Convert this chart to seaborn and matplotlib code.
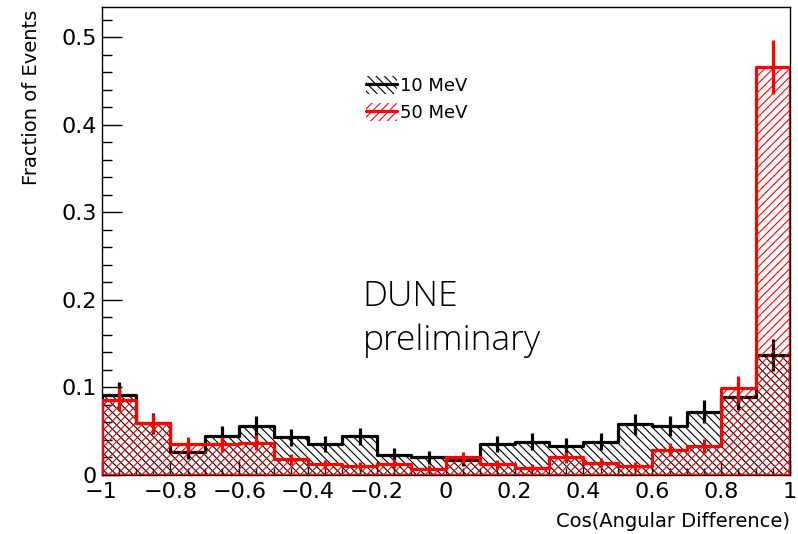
import matplotlib
matplotlib.use("Agg")
import numpy as np
import pandas as pd
import seaborn as sns
import matplotlib.pyplot as plt
from matplotlib.patches import Patch
from matplotlib.lines import Line2D
from matplotlib.ticker import MultipleLocator

# ---------------- data ----------------
bin_edges = [-1.0, -0.9, -0.8, -0.7, -0.6, -0.5, -0.4, -0.3, -0.2, -0.1, 0.0,
             0.1, 0.2, 0.3, 0.4, 0.5, 0.6, 0.7, 0.8, 0.9, 1.0]
frac_10 = [0.091, 0.059, 0.026, 0.045, 0.056, 0.043, 0.035, 0.044, 0.023, 0.020,
           0.017, 0.035, 0.038, 0.033, 0.038, 0.058, 0.056, 0.072, 0.089, 0.137]
err_10 = [0.0147, 0.0119, 0.0079, 0.0104, 0.0115, 0.0101, 0.0091, 0.0102, 0.0074, 0.0069,
          0.0064, 0.0091, 0.0095, 0.0089, 0.0095, 0.0118, 0.0115, 0.0131, 0.0146, 0.0180]
frac_50 = [0.086, 0.059, 0.035, 0.035, 0.037, 0.018, 0.012, 0.010, 0.013, 0.0073,
           0.020, 0.012, 0.0084, 0.020, 0.014, 0.010, 0.029, 0.033, 0.099, 0.466]
err_50 = [0.0132, 0.0110, 0.0085, 0.0085, 0.0087, 0.0061, 0.0049, 0.0045, 0.0051, 0.0039,
          0.0064, 0.0049, 0.0041, 0.0064, 0.0053, 0.0045, 0.0077, 0.0082, 0.0142, 0.0310]
series_labels = ["10 MeV", "50 MeV"]
x_ticks = [-1.0, -0.8, -0.6, -0.4, -0.2, 0.0, 0.2, 0.4, 0.6, 0.8, 1.0]
x_tick_labels = ["\u22121", "\u22120.8", "\u22120.6", "\u22120.4", "\u22120.2", "0",
                 "0.2", "0.4", "0.6", "0.8", "1"]
y_ticks = [0.0, 0.1, 0.2, 0.3, 0.4, 0.5]
y_tick_labels = ["0", "0.1", "0.2", "0.3", "0.4", "0.5"]
x_label = "Cos(Angular Difference)"
y_label = "Fraction of Events"

# ---------------- style ----------------
sns.set_theme(style="white")
plt.rcParams["font.family"] = ["DejaVu Sans"]
plt.rcParams["hatch.linewidth"] = 0.8
plt.rcParams["axes.linewidth"] = 1.0
for key in ["text.color", "axes.labelcolor", "xtick.color", "ytick.color", "axes.edgecolor"]:
    plt.rcParams[key] = "black"

edges = np.array(bin_edges)
centers = 0.5 * (edges[:-1] + edges[1:])
df = pd.DataFrame({"center": centers, "f10": frac_10, "e10": err_10,
                   "f50": frac_50, "e50": err_50})

fig = plt.figure(figsize=(7.98, 5.34), dpi=100)
ax = fig.add_axes([101.5 / 798, 59 / 534, 688.5 / 798, 468 / 534])

lw = 2.3
hatch_10 = "\\\\\\\\"
hatch_50 = "////"
sns.histplot(data=df, x="center", weights="f10", bins=bin_edges, element="step",
             fill=True, color="black", facecolor="none", edgecolor="black", linewidth=lw,
             hatch=hatch_10, ax=ax, zorder=2)
ax.errorbar(df["center"], df["f10"], yerr=df["e10"], fmt="none", ecolor="black",
            elinewidth=lw, capsize=0, zorder=3)
sns.histplot(data=df, x="center", weights="f50", bins=bin_edges, element="step",
             fill=True, color="red", facecolor="none", edgecolor="red", linewidth=lw,
             hatch=hatch_50, ax=ax, zorder=4)
ax.errorbar(df["center"], df["f50"], yerr=df["e50"], fmt="none", ecolor="red",
            elinewidth=lw, capsize=0, zorder=5)

ax.set_xlim(-1, 1)
ax.set_ylim(0, 0.5345)
ax.set_xticks(x_ticks)
ax.set_xticklabels(x_tick_labels)
ax.set_yticks(y_ticks)
ax.set_yticklabels(y_tick_labels)
ax.xaxis.set_minor_locator(MultipleLocator(0.05))
ax.yaxis.set_minor_locator(MultipleLocator(0.02))
ax.tick_params(axis="both", which="both", direction="in", colors="black",
               top=False, right=False, bottom=True, left=True, labelsize=16)
ax.tick_params(axis="x", which="major", length=10, width=1, pad=5)
ax.tick_params(axis="x", which="minor", length=5, width=1)
ax.tick_params(axis="y", which="major", length=14.4, width=1, pad=3.5)
ax.tick_params(axis="y", which="minor", length=7.2, width=1)
for s in ax.spines.values():
    s.set_color("black")
    s.set_linewidth(1.0)
ax.grid(False)

ax.set_xlabel(x_label, fontsize=14, loc="right", color="black")
ax.xaxis.set_label_coords(1.0, -0.08)
ax.set_ylabel(y_label, fontsize=14, loc="top", color="black")
ax.yaxis.set_label_coords(-0.088, 0.994)

handles = [
    (Patch(facecolor="none", edgecolor="black", hatch=hatch_10, linewidth=0),
     Line2D([], [], color="black", lw=lw)),
    (Patch(facecolor="none", edgecolor="red", hatch=hatch_50, linewidth=0),
     Line2D([], [], color="red", lw=lw)),
]
leg = ax.legend(handles, series_labels, loc="upper left", bbox_to_anchor=(0.384, 0.852),
                frameon=False, fontsize=13, handlelength=1.7, handleheight=1.1,
                handletextpad=0.2, labelspacing=0.45, borderpad=0, borderaxespad=0)
for t in leg.get_texts():
    t.set_color("black")

ax.text(0.379, 0.361, "DUNE", transform=ax.transAxes, fontsize=25.5, fontweight="light",
        family=["Open Sans", "DejaVu Sans"], ha="left", va="baseline", color="black")
ax.text(0.379, 0.267, "preliminary", transform=ax.transAxes, fontsize=25.5, fontweight="light",
        family=["Open Sans", "DejaVu Sans"], ha="left", va="baseline", color="black")

fig.savefig("out.png", dpi=100)
